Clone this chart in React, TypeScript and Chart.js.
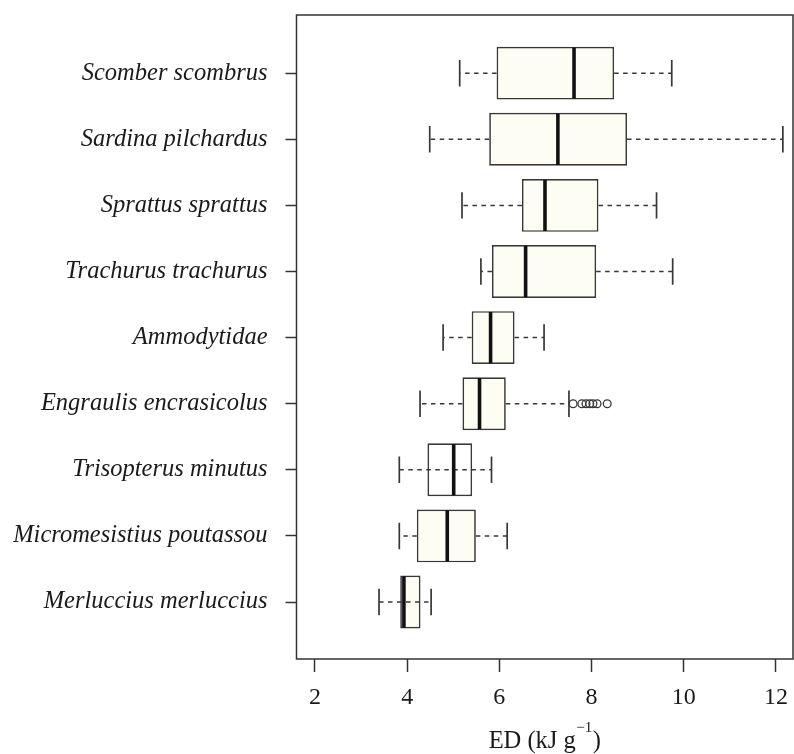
import { useEffect, useRef } from 'react';
import { Chart, registerables } from 'chart.js';

Chart.register(...registerables);

// ---- data ----
const species = [
  'Scomber scombrus',
  'Sardina pilchardus',
  'Sprattus sprattus',
  'Trachurus trachurus',
  'Ammodytidae',
  'Engraulis encrasicolus',
  'Trisopterus minutus',
  'Micromesistius poutassou',
  'Merluccius merluccius',
];
const whiskerLow = [5.14, 4.49, 5.19, 5.6, 4.78, 4.28, 3.83, 3.83, 3.39];
const q1 = [5.94, 5.78, 6.49, 5.84, 5.4, 5.2, 4.44, 4.21, 3.85];
const median = [7.62, 7.27, 6.99, 6.57, 5.81, 5.57, 5.01, 4.87, 3.93];
const q3 = [8.49, 8.77, 8.15, 8.1, 6.33, 6.14, 5.41, 5.49, 4.29];
const whiskerHigh = [9.74, 12.15, 9.41, 9.76, 6.97, 7.51, 5.83, 6.17, 4.52];
const outlierSpecies = 'Engraulis encrasicolus';
const outliers = [7.6, 7.79, 7.88, 7.96, 8.03, 8.12, 8.34];
const xTicks = [2, 4, 6, 8, 10, 12];
const xTitleMain = 'ED (kJ g';
const xTitleSup = '\u22121';
const xTitleEnd = ')';

// ---- style ----
const SERIF = "'Liberation Serif', 'Times New Roman', Times, serif";
const INK = '#1a1a1a';
const LINE = '#383838';
const BOX_FILL = '#fdfdf4';
const dashedThrough = ['Trisopterus minutus', 'Merluccius merluccius'];
const whiteBoxes = ['Trisopterus minutus'];

const n = species.length;
const pos = (i: number) => n - i;

const boxPartsPlugin = {
  id: 'boxParts',
  afterDatasetsDraw(chart: any) {
    const { ctx, chartArea } = chart;
    const xs = chart.scales.x;
    const ys = chart.scales.y;
    const meta = chart.getDatasetMeta(0);
    ctx.save();
    ctx.strokeStyle = LINE;
    species.forEach((name, i) => {
      const bar = meta.data[i];
      const h = bar.height;
      const y = ys.getPixelForValue(pos(i));
      const xwl = xs.getPixelForValue(whiskerLow[i]);
      const xq1 = xs.getPixelForValue(q1[i]);
      const xq3 = xs.getPixelForValue(q3[i]);
      const xwh = xs.getPixelForValue(whiskerHigh[i]);
      const xm = xs.getPixelForValue(median[i]);
      // dashed whiskers
      ctx.lineWidth = 1.5;
      ctx.setLineDash([4.5, 4.5]);
      ctx.beginPath();
      if (dashedThrough.includes(name)) {
        ctx.moveTo(xwl, y);
        ctx.lineTo(xwh, y);
      } else {
        ctx.moveTo(xq1, y);
        ctx.lineTo(xwl, y);
        ctx.moveTo(xq3, y);
        ctx.lineTo(xwh, y);
      }
      ctx.stroke();
      // staples
      ctx.setLineDash([]);
      ctx.lineWidth = 1.7;
      ctx.beginPath();
      ctx.moveTo(xwl, y - h / 4);
      ctx.lineTo(xwl, y + h / 4);
      ctx.moveTo(xwh, y - h / 4);
      ctx.lineTo(xwh, y + h / 4);
      ctx.stroke();
      // median
      ctx.strokeStyle = '#111';
      ctx.lineWidth = 3.6;
      ctx.beginPath();
      ctx.moveTo(xm, y - h / 2 + 0.8);
      ctx.lineTo(xm, y + h / 2 - 0.8);
      ctx.stroke();
      ctx.strokeStyle = LINE;
    });
    // frame
    ctx.lineWidth = 1.5;
    ctx.strokeStyle = '#333';
    ctx.strokeRect(chartArea.left, chartArea.top, chartArea.right - chartArea.left, chartArea.bottom - chartArea.top);
    ctx.restore();
  },
  afterDraw(chart: any) {
    const { ctx, chartArea } = chart;
    ctx.save();
    ctx.fillStyle = INK;
    ctx.textBaseline = 'alphabetic';
    ctx.textAlign = 'left';
    const mainFont = `24.5px ${SERIF}`;
    const supFont = `15px ${SERIF}`;
    ctx.font = mainFont;
    const w1 = ctx.measureText(xTitleMain).width;
    const w3 = ctx.measureText(xTitleEnd).width;
    ctx.font = supFont;
    const w2 = ctx.measureText(xTitleSup).width;
    const total = w1 + w2 + w3 + 1;
    const cx = (chartArea.left + chartArea.right) / 2;
    const baseline = 748;
    let x = cx - total / 2;
    ctx.font = mainFont;
    ctx.fillText(xTitleMain, x, baseline);
    x += w1 + 0.5;
    ctx.font = supFont;
    ctx.fillText(xTitleSup, x, baseline - 16);
    x += w2 + 0.5;
    ctx.font = mainFont;
    ctx.fillText(xTitleEnd, x, baseline);
    ctx.restore();
  },
};

export default function App() {
  const ref = useRef<HTMLCanvasElement>(null);
  useEffect(() => {
    document.body.style.margin = '0';
    const outIdx = species.indexOf(outlierSpecies);
    const chart = new Chart(ref.current as HTMLCanvasElement, {
      type: 'bar',
      data: {
        datasets: [
          {
            type: 'bar',
            data: species.map((_, i) => ({ x: [q1[i], q3[i]], y: pos(i) })) as any,
            backgroundColor: species.map((s) => (whiteBoxes.includes(s) ? '#ffffff' : BOX_FILL)),
            borderColor: LINE,
            borderWidth: 1.7,
            borderSkipped: false,
            categoryPercentage: 0.8,
            barPercentage: 1,
            order: 2,
          } as any,
          {
            type: 'scatter',
            data: outliers.map((v) => ({ x: v, y: pos(outIdx) })),
            pointStyle: 'circle',
            pointRadius: 3.9,
            pointBorderWidth: 1.3,
            pointBorderColor: LINE,
            pointBackgroundColor: 'rgba(255,255,255,0)',
            showLine: false,
            order: 1,
          } as any,
        ],
      },
      options: {
        indexAxis: 'y',
        animation: false,
        responsive: false,
        maintainAspectRatio: false,
        layout: { autoPadding: false, padding: { top: 15, right: 1, left: 0, bottom: 0 } },
        plugins: { legend: { display: false }, tooltip: { enabled: false } },
        scales: {
          x: {
            type: 'linear',
            position: 'bottom',
            offset: false,
            min: 1.6,
            max: 12.37,
            afterBuildTicks: (ax: any) => {
              ax.ticks = xTicks.map((v) => ({ value: v }));
            },
            afterFit: (s: any) => {
              s.height = 95;
              s.paddingLeft = 0;
              s.paddingRight = 0;
            },
            grid: {
              offset: false,
              drawOnChartArea: false,
              drawTicks: true,
              tickLength: 13,
              tickWidth: 1.5,
              tickColor: '#333',
            },
            border: { display: false },
            ticks: {
              font: { family: SERIF, size: 24 },
              color: INK,
              padding: 11,
              maxRotation: 0,
              autoSkip: false,
              callback: (v: any) => String(v),
            },
          },
          y: {
            type: 'linear',
            position: 'left',
            offset: false,
            min: 0.138,
            max: 9.88,
            afterBuildTicks: (ax: any) => {
              ax.ticks = species.map((_, i) => ({ value: pos(i) }));
            },
            afterFit: (s: any) => {
              s.width = 296.5;
              s.paddingTop = 0;
              s.paddingBottom = 0;
            },
            grid: {
              offset: false,
              drawOnChartArea: false,
              drawTicks: true,
              tickLength: 11,
              tickWidth: 1.5,
              tickColor: '#333',
            },
            border: { display: false },
            ticks: {
              font: { family: SERIF, size: 24.5, style: 'italic' },
              color: INK,
              padding: 18,
              autoSkip: false,
              callback: (v: any) => species[n - Number(v)] ?? '',
            },
          },
        },
      },
      plugins: [boxPartsPlugin],
    });
    return () => chart.destroy();
  }, []);
  return (
    <div style={{ width: 794, height: 754 }}>
      <canvas ref={ref} width={794} height={754} style={{ display: 'block' }} />
    </div>
  );
}
